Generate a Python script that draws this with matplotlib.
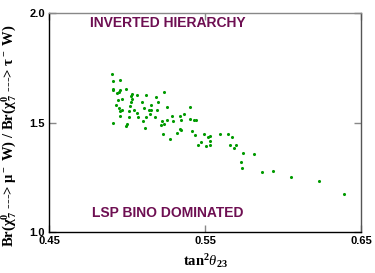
import matplotlib
matplotlib.use('Agg')
import matplotlib.pyplot as plt

# tan^2(theta_23) values and branching ratio ratio
tan2_theta23 = [
    0.4901, 0.4908, 0.4955, 0.4910, 0.4908, 0.4938, 0.4951, 0.4955, 0.4996, 0.5030,
    0.5024, 0.5066, 0.5124, 0.5186, 0.4944, 0.4970, 0.5028, 0.5034, 0.5094, 0.5152,
    0.5201, 0.4929, 0.4951, 0.4966, 0.4955, 0.5019, 0.5015, 0.5047, 0.5062, 0.5111,
    0.5143, 0.5152, 0.5149, 0.5190, 0.4953, 0.5015, 0.5069, 0.5124, 0.5179, 0.5235,
    0.4910, 0.5000, 0.4996, 0.5104, 0.5117, 0.5216, 0.5226, 0.5229, 0.5239, 0.5258,
    0.5406, 0.5287, 0.5342, 0.5365, 0.5258, 0.5293, 0.5346, 0.5404, 0.5431, 0.5444,
    0.5342, 0.5276, 0.5321, 0.5344, 0.5415, 0.5434, 0.5494, 0.5534, 0.5521, 0.5596,
    0.5534, 0.5474, 0.5457, 0.5506, 0.5532, 0.5647, 0.5675, 0.5662, 0.5686, 0.5701,
    0.5742, 0.5816, 0.5731, 0.5739, 0.5867, 0.5938, 0.6049, 0.6231, 0.6388,
]
br_ratio = [
    1.720, 1.690, 1.694, 1.654, 1.647, 1.636, 1.638, 1.648, 1.653, 1.632,
    1.621, 1.626, 1.624, 1.616, 1.601, 1.606, 1.595, 1.609, 1.592, 1.580,
    1.595, 1.580, 1.566, 1.556, 1.551, 1.575, 1.551, 1.556, 1.543, 1.565,
    1.558, 1.557, 1.540, 1.556, 1.528, 1.525, 1.525, 1.524, 1.525, 1.638,
    1.496, 1.495, 1.484, 1.505, 1.476, 1.487, 1.508, 1.446, 1.495, 1.571,
    1.569, 1.530, 1.531, 1.539, 1.511, 1.508, 1.510, 1.517, 1.511, 1.510,
    1.469, 1.425, 1.452, 1.464, 1.461, 1.444, 1.449, 1.438, 1.434, 1.446,
    1.414, 1.410, 1.399, 1.394, 1.399, 1.446, 1.435, 1.399, 1.386, 1.399,
    1.362, 1.355, 1.320, 1.292, 1.274, 1.280, 1.250, 1.231, 1.174,
]
x_ticks = [0.45, 0.55, 0.65]
y_ticks = [1.0, 1.5, 2.0]

PURPLE = '#6e0f52'

plt.rcParams['mathtext.fontset'] = 'custom'
plt.rcParams['mathtext.rm'] = 'Liberation Serif:bold'
plt.rcParams['mathtext.it'] = 'Liberation Serif:italic'
plt.rcParams['mathtext.bf'] = 'Liberation Serif:bold'

fig = plt.figure(figsize=(3.75, 2.73), dpi=100)
ax = fig.add_axes([0.1307, 0.150, 0.832, 0.802])

ax.scatter(tan2_theta23, br_ratio, s=5, color='#009a00', linewidths=0, zorder=3)

ax.set_xlim(0.45, 0.65)
ax.set_ylim(1.0, 2.0)
ax.set_xticks(x_ticks)
ax.set_yticks(y_ticks)
ax.set_xticklabels(['%.2f' % v for v in x_ticks])
ax.set_yticklabels(['%.1f' % v for v in y_ticks])
ax.tick_params(direction='in', length=5, width=1, color='#888888',
               top=True, right=True, labelsize=8, pad=3)
for lab in ax.get_xticklabels() + ax.get_yticklabels():
    lab.set_fontfamily('Liberation Sans')
    lab.set_fontweight('bold')

ax.spines['left'].set_color('black')
ax.spines['bottom'].set_color('black')
ax.spines['top'].set_color('#888888')
ax.spines['right'].set_color('#555555')
for s in ax.spines.values():
    s.set_linewidth(1)

ax.text(0.526, 1.954, 'INVERTED HIERARCHY', color=PURPLE, fontsize=10,
        fontweight='bold', family='Liberation Sans', ha='center', va='center')
ax.text(0.526, 1.087, 'LSP BINO DOMINATED', color=PURPLE, fontsize=10,
        fontweight='bold', family='Liberation Sans', ha='center', va='center')

ax.set_xlabel(r'tan$^2\theta_{23}$', fontsize=10.5, family='Liberation Serif',
              fontweight='bold', labelpad=4)
ax.set_ylabel(r'Br(χ$^0_{\,7}$ ---> μ$^-$ W) / Br(χ$^0_{\,7}$ ---> τ$^-$ W)',
              fontsize=10.5, family='Liberation Serif', fontweight='bold')
ax.yaxis.set_label_coords(-0.097, 0.44)

fig.savefig('out.png', dpi=100)
